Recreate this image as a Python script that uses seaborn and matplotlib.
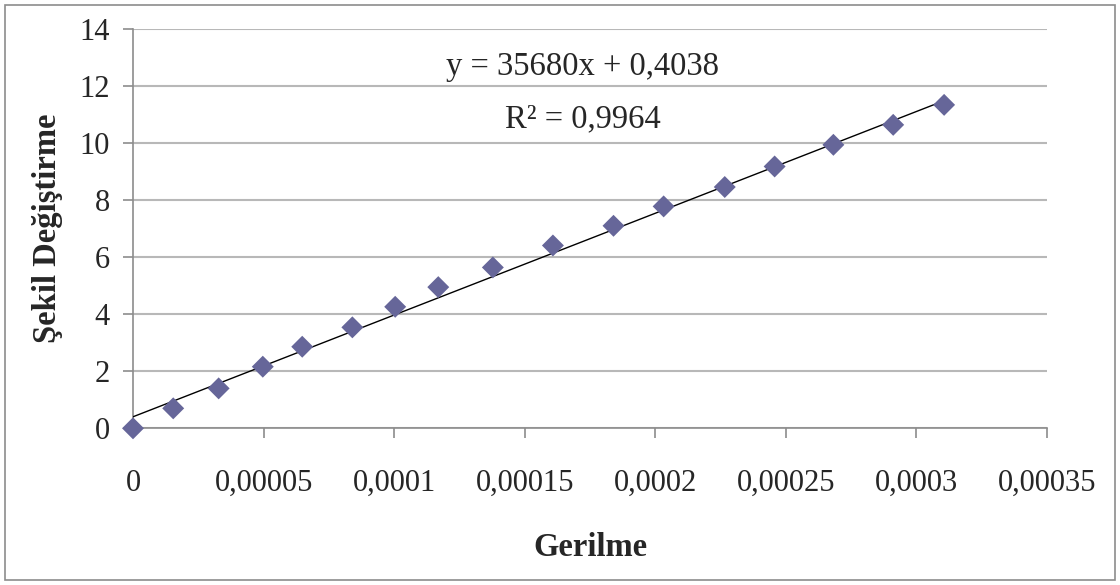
import matplotlib
matplotlib.use("Agg")
import matplotlib.pyplot as plt
from matplotlib.patches import Rectangle
import numpy as np
import pandas as pd
import seaborn as sns

# Measured strain / deformation pairs
gerilme = [0.0, 1.54e-5, 3.28e-5, 4.97e-5, 6.48e-5, 8.40e-5, 1.004e-4, 1.169e-4,
           1.378e-4, 1.608e-4, 1.840e-4, 2.032e-4, 2.266e-4, 2.457e-4, 2.682e-4,
           2.911e-4, 3.106e-4]
sekil_degistirme = [0.0, 0.70, 1.40, 2.16, 2.86, 3.54, 4.26, 4.95,
                    5.64, 6.41, 7.10, 7.78, 8.46, 9.18, 9.94,
                    10.64, 11.34]

# Linear trendline parameters
slope = 35680
intercept = 0.4038
r_squared = 0.9964

x_ticks = [0, 0.00005, 0.0001, 0.00015, 0.0002, 0.00025, 0.0003, 0.00035]
x_tick_labels = ["0", "0,00005", "0,0001", "0,00015", "0,0002", "0,00025", "0,0003", "0,00035"]
y_ticks = [0, 2, 4, 6, 8, 10, 12, 14]
y_tick_labels = ["0", "2", "4", "6", "8", "10", "12", "14"]

sns.set_theme(style="white")
plt.rcParams["font.family"] = ["Liberation Serif", "DejaVu Serif"]

df = pd.DataFrame({"Gerilme": gerilme, "Şekil Değiştirme": sekil_degistirme})

fig = plt.figure(figsize=(11.2, 5.85), dpi=100)
ax = fig.add_axes([133 / 1120, 1 - 428.3 / 585, (1047 - 133) / 1120, (428.3 - 29) / 585])

# Trendline from the fitted equation
x_fit = np.array([0.0, max(gerilme)])
trend = pd.DataFrame({"x": x_fit, "y": slope * x_fit + intercept})
sns.lineplot(data=trend, x="x", y="y", ax=ax, color="black", linewidth=1.0, zorder=3)

sns.scatterplot(data=df, x="Gerilme", y="Şekil Değiştirme", ax=ax, marker="D",
                s=125, color="#666699", edgecolor="none", linewidth=0, zorder=4,
                clip_on=False)

ax.set_xlim(0, 0.00035)
ax.set_ylim(0, 14)
ax.set_xticks(x_ticks)
ax.set_xticklabels(x_tick_labels)
ax.set_yticks(y_ticks)
ax.set_yticklabels(y_tick_labels)

ax.yaxis.grid(True, color="#b8b8b8", linewidth=1.5)
ax.xaxis.grid(False)
ax.set_axisbelow(True)

for side in ["top", "right"]:
    ax.spines[side].set_visible(False)
for side in ["left", "bottom"]:
    ax.spines[side].set_color("#8c8c8c")
    ax.spines[side].set_linewidth(1.2)

ax.tick_params(axis="x", which="major", direction="out", length=7.5, width=1.2,
               color="#8c8c8c", pad=22, labelsize=22, bottom=True)
ax.tick_params(axis="y", which="major", direction="out", length=7.5, width=1.2,
               color="#8c8c8c", pad=9, labelsize=22, left=True)

ax.set_xlabel("Gerilme", fontsize=23.5, fontweight="bold", labelpad=24)
ax.set_ylabel("Şekil Değiştirme", fontsize=23.5, fontweight="bold", labelpad=12)

ax.text(0.492, 0.905, f"y = {slope}x + {str(intercept).replace('.', ',')}",
        transform=ax.transAxes, ha="center", va="center", fontsize=23.5)
ax.text(0.492, 0.775, f"R² = {str(r_squared).replace('.', ',')}",
        transform=ax.transAxes, ha="center", va="center", fontsize=23.5)

# Chart area border
fig.patches.append(Rectangle((5 / 1120, 5 / 585), 1 - 10 / 1120, 1 - 10 / 585,
                             transform=fig.transFigure, fill=False,
                             edgecolor="#8c8c8c", linewidth=1.2))

fig.savefig("out.png", dpi=100, facecolor="white")
